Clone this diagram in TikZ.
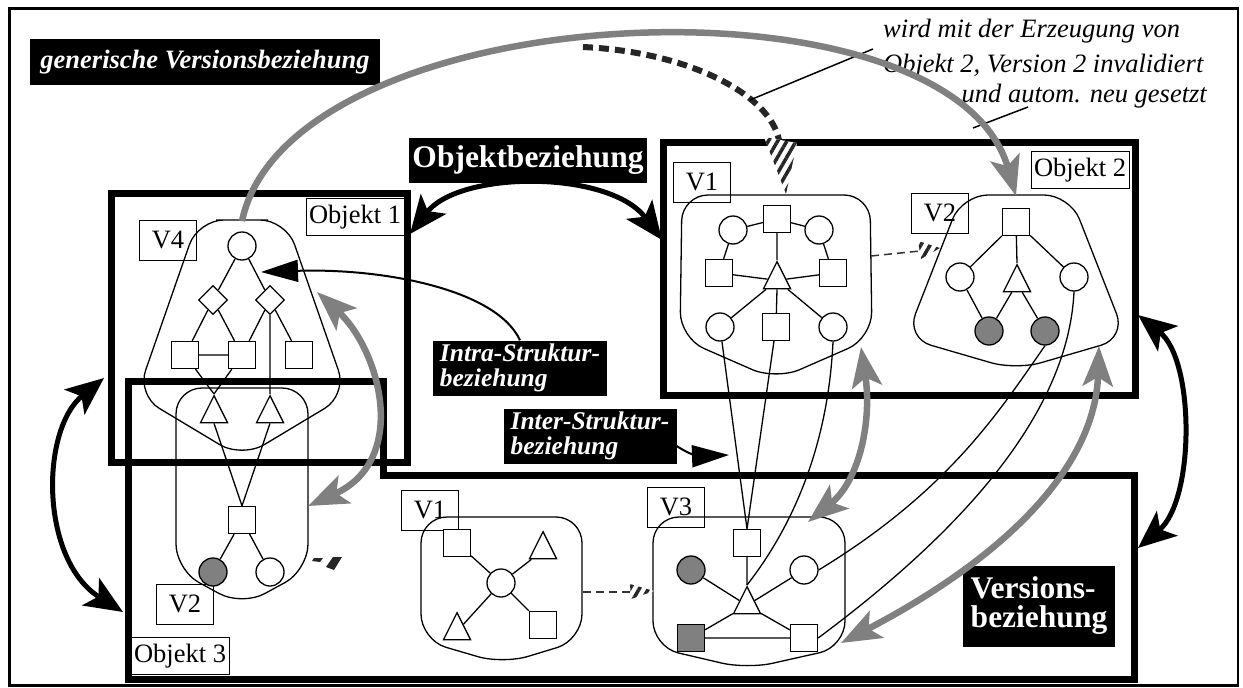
\documentclass[tikz,border=0pt]{standalone}
\usepackage{fontspec}
\setmainfont{Liberation Serif}
\usetikzlibrary{arrows.meta,shapes.geometric,patterns.meta}

\tikzset{
  rahmen/.style={line width=7pt},
  blob/.style={line width=1.3pt, rounded corners=26pt},
  kante/.style={line width=1.3pt},
  ci/.style={circle, draw, line width=1.3pt, fill=white, minimum size=28pt, inner sep=0pt},
  cig/.style={ci, fill=gray},
  sq/.style={rectangle, draw, line width=1.3pt, fill=white, minimum size=27pt, inner sep=0pt},
  sqg/.style={sq, fill=gray},
  tri/.style={isosceles triangle, isosceles triangle stretches, shape border rotate=90, draw, line width=1.3pt, fill=white, minimum width=27pt, minimum height=27pt, inner sep=0pt},
  dia/.style={diamond, draw, line width=1.3pt, fill=white, minimum size=29pt, inner sep=0pt},
  vlbl/.style={draw, fill=white, line width=1pt, minimum width=57pt, minimum height=40pt, inner sep=0pt, font=\fontsize{26.5}{26.5}\selectfont},
  olbl/.style={vlbl, minimum width=98pt, minimum height=37pt},
  blk/.style={fill=black, text=white, inner sep=3pt, align=left},
  notiz/.style={inner sep=0pt, font=\fontsize{26.5}{26.5}\selectfont\itshape},
  vtip/.tip={Stealth[length=40pt,width=30pt,inset=9pt]},
  otip/.tip={Stealth[length=38pt,width=32pt,inset=9pt]},
  verpfeil/.style={gray, line width=6.5pt},
  objpfeil/.style={line width=5pt, otip-otip},
  strpfeil/.style={line width=2pt, -{Triangle[length=37pt,width=22pt]}},
  gestr/.style={line width=1.5pt, dash pattern=on 8pt off 5pt, black!80},
  hatch/.style={fill=white, postaction={pattern={Lines[angle=60,distance=8pt,line width=3.5pt]}, pattern color=black!85}},
}

\begin{document}
\begin{tikzpicture}[x=1pt,y=-1pt]
	\useasboundingbox (0,0) rectangle (1243,688);
	\draw[line width=2.5pt] (9.5,8.5) rectangle (1238,685.5);

	% Objekte
	\draw[rahmen] (111,193) rectangle (407,462);
	\draw[rahmen] (663,142) rectangle (1135,395);
	\draw[rahmen] (128,381) -- (383,381) -- (383,475) -- (1134,475) -- (1134,679) -- (128,679) -- cycle;

	\node[olbl] (obj1) at (355,217) {Objekt 1};
	\node[olbl] (obj2) at (1080,170) {Objekt 2};
	\node[olbl] (obj3) at (180,656) {Objekt 3};

	\node[vlbl] (v4) at (168,240) {V4};
	\node[vlbl] (v1o) at (702,182) {V1};
	\node[vlbl] (v2o) at (940,213) {V2};
	\node[vlbl] (v2u) at (185,604) {V2};
	\node[vlbl] (v1u) at (430,510) {V1};
	\node[vlbl] (v3u) at (676,507) {V3};

	% Versionen
	\draw[blob] (242,220) -- (286,220) -- (347,395) -- (242,458) -- (137,395) -- (198,220) -- cycle;
	\draw[blob] (242,388) -- (308,388) -- (308,570) -- (242,606) -- (176,570) -- (176,388) -- cycle;
	\draw[blob] (776,195) -- (870,195) -- (872,338) -- (776,380) -- (680,338) -- (682,195) -- cycle;
	\draw[blob] (1016,195) -- (1070,195) -- (1126,338) -- (1016,370) -- (906,338) -- (962,195) -- cycle;
	\draw[blob] (501,517) -- (582,517) -- (582,640) -- (503,664) -- (421,640) -- (421,517) -- cycle;
	\draw[blob] (749,517) -- (845,517) -- (845,647) -- (747,669) -- (653,647) -- (653,517) -- cycle;

	% Objekt 1, V4
	\node[ci]  (a1) at (242,246) {};
	\node[dia] (a2) at (213,300) {};
	\node[dia] (a3) at (270,300) {};
	\node[sq]  (a4) at (185,355) {};
	\node[sq]  (a5) at (242,355) {};
	\node[sq]  (a6) at (299,355) {};
	\node[tri, anchor=apex] (a7) at (214,394) {};
	\node[tri, anchor=apex] (a8) at (270,394) {};
	% Objekt 3, V2
	\node[sq]  (b1) at (242,520) {};
	\node[cig] (b2) at (213,572) {};
	\node[ci]  (b3) at (270,572) {};
	% Objekt 2, V1
	\node[sq] (c1) at (777,219) {};
	\node[ci] (c2) at (733,230) {};
	\node[ci] (c3) at (819,230) {};
	\node[sq] (c4) at (719,273) {};
	\node[sq] (c5) at (833,273) {};
	\node[tri, anchor=apex] (c6) at (777,260) {};
	\node[ci] (c7) at (720,327) {};
	\node[sq] (c8) at (776,327) {};
	\node[ci] (c9) at (833,327) {};
	% Objekt 2, V2
	\node[sq]  (d1) at (1016,222) {};
	\node[ci]  (d2) at (960,277) {};
	\node[tri, anchor=apex] (d3) at (1017,263) {};
	\node[ci]  (d4) at (1074,277) {};
	\node[cig] (d5) at (989,331) {};
	\node[cig] (d6) at (1045,331) {};
	% Objekt 3, V1
	\node[ci] (e1) at (501,583) {};
	\node[sq] (e2) at (457,543) {};
	\node[tri, anchor=apex] (e3) at (543,530) {};
	\node[tri, anchor=apex] (e4) at (457,611) {};
	\node[sq] (e5) at (543,625) {};
	% Objekt 3, V3
	\node[sq]  (f1) at (747,543) {};
	\node[cig] (f2) at (691,570) {};
	\node[ci]  (f3) at (804,570) {};
	\node[tri, anchor=apex] (f4) at (747,585) {};
	\node[sqg] (f5) at (691,638) {};
	\node[sq]  (f6) at (804,638) {};

	\draw[kante] (a1) -- (a2) (a1) -- (a3) (a2) -- (a4) (a2) -- (a5) (a3) -- (a5) (a3) -- (a6)
		(a4) -- (a5) (a3) -- (a8.apex) (a4) -- (a7.apex) (a5) -- (a7.apex);
	\draw[kante] (a7.lower side) -- (b1.north) (a8.lower side) -- (b1.north) (b1) -- (b2) (b1) -- (b3);
	\draw[kante] (c1) -- (c2) (c1) -- (c3) (c2) -- (c4) (c3) -- (c5) (c4) -- (c6) (c6) -- (c5)
		(c1) -- (c6.apex) (c6.lower side) -- (c8) (c6) -- (c7) (c6) -- (c9);
	\draw[kante] (d1) -- (d2) (d1) -- (d4) (d1) -- (d3.apex) (d2) -- (d5) (d3) -- (d5) (d3) -- (d6);
	\draw[kante] (e1) -- (e2) (e1) -- (e3) (e1) -- (e4) (e1) -- (e5);
	\draw[kante] (f1) -- (f4.apex) (f2) -- (f4) (f3) -- (f4) (f5) -- (f4) (f6) -- (f4) (f5) -- (f6);

	% Inter-Struktur
	\draw[kante] (c7) -- (f1.north) (c8) -- (f1.north);
	\draw[kante] (c9.south) .. controls (828,450) and (790,530) .. (f4.apex);
	\draw[kante] (d6.south) .. controls (1000,410) and (950,490) .. (f3.east);
	\draw[kante] (d4.south) .. controls (1068,420) and (950,540) .. (f6.east);

	% gestrichelte Pfeile
	\coordinate (s1a) at (871,256);
	\coordinate (s1b) at (920,251);
	\draw[gestr] (s1a) -- (s1b);
	\path[hatch] (940,248) -- (918,241) -- (921,259) -- cycle;
	\coordinate (s2a) at (583,592);
	\coordinate (s2b) at (630,592);
	\draw[gestr] (s2a) -- (s2b);
	\path[hatch] (654,591) -- (630,584) -- (631,599) -- cycle;
	\fill[black!85] (314,558) -- (323,558) -- (320,562) -- (312,561) -- cycle;
	\fill[black!85] (333,557) -- (342,557) -- (334,570) -- (326,567) -- cycle;

	% Beschriftung
	\node[blk, minimum width=350pt, minimum height=46pt, font=\fontsize{26.5}{26.5}\selectfont\bfseries\itshape] (gvb) at (205,62) {generische Versionsbeziehung};
	\node[blk, minimum width=231pt, minimum height=45pt, font=\fontsize{31.5}{31.5}\selectfont\bfseries] (ob) at (528,160) {Objektbeziehung};
	\node[blk, minimum width=152pt, minimum height=81pt, font=\fontsize{31.5}{29}\selectfont\bfseries] (vb) at (1039,606) {Versions-\\beziehung};
	\node[blk, minimum width=174pt, minimum height=55pt, font=\fontsize{25.5}{25.5}\selectfont\bfseries\itshape] (intra) at (520,368) {Intra-Struktur-\\beziehung};
	\node[blk, minimum width=173pt, minimum height=55pt, font=\fontsize{25.5}{25.5}\selectfont\bfseries\itshape] (inter) at (590,436) {Inter-Struktur-\\beziehung};

	\node[notiz, anchor=base west] (n1) at (883,37) {\makebox[297pt][s]{wird mit der Erzeugung von}};
	\node[notiz, anchor=base west] (n2) at (883,72) {Objekt 2, Version 2 invalidiert};
	\node[notiz, anchor=base east] (n3) at (1207,102) {und autom. neu gesetzt};

	% gestrichelter Bogen
	\draw[line width=6pt, black!85, dash pattern=on 10pt off 6pt] (583,47) .. controls (690,52) and (770,95) .. (779,140);
	\path[hatch] (764,137) -- (797,143) -- (786,194) -- cycle;
	\coordinate (h1) at (750,100);
	\coordinate (h2) at (973,128);
	\draw[line width=1.5pt] (873,49) -- (h1);
	\draw[line width=1.5pt] (1028,107) -- (h2);

	% Versionsbeziehungen
	\coordinate (g1a) at (242,221);
	\coordinate (g1b) at (1016,196);
	\draw[verpfeil, -vtip] (g1a) .. controls (290,-5) and (950,-35) .. (g1b);
	\coordinate (g2a) at (317,292);
	\coordinate (g2b) at (308,506);
	\draw[verpfeil, vtip-vtip] (g2a) .. controls (380,350) and (410,460) .. (g2b);
	\coordinate (g3a) at (861,347);
	\coordinate (g3b) at (808,522);
	\draw[verpfeil, vtip-vtip] (g3a) .. controls (872,420) and (860,480) .. (g3b);
	\coordinate (g4a) at (1099,346);
	\coordinate (g4b) at (841,643);
	\draw[verpfeil, vtip-vtip] (g4a) .. controls (1095,470) and (1000,560) .. (g4b);

	% Objektbeziehungen
	\coordinate (k1a) at (410,234);
	\coordinate (k1b) at (662,240);
	\draw[objpfeil] (k1a) .. controls (460,170) and (610,170) .. (k1b);
	\coordinate (k2a) at (104,378);
	\coordinate (k2b) at (123,612);
	\draw[objpfeil] (k2a) .. controls (40,430) and (40,560) .. (k2b);
	\coordinate (k3a) at (1138,315);
	\coordinate (k3b) at (1138,548);
	\draw[objpfeil] (k3a) .. controls (1195,360) and (1195,500) .. (k3b);

	% Struktur-Pfeile
	\coordinate (intraziel) at (261,272);
	\draw[strpfeil] (intra.north) .. controls (497,290) and (385,268) .. (intraziel);
	\coordinate (interziel) at (729,455);
	\draw[strpfeil] ([yshift=-10pt]inter.east) .. controls (690,455) and (700,456) .. (interziel);
\end{tikzpicture}
\end{document}
